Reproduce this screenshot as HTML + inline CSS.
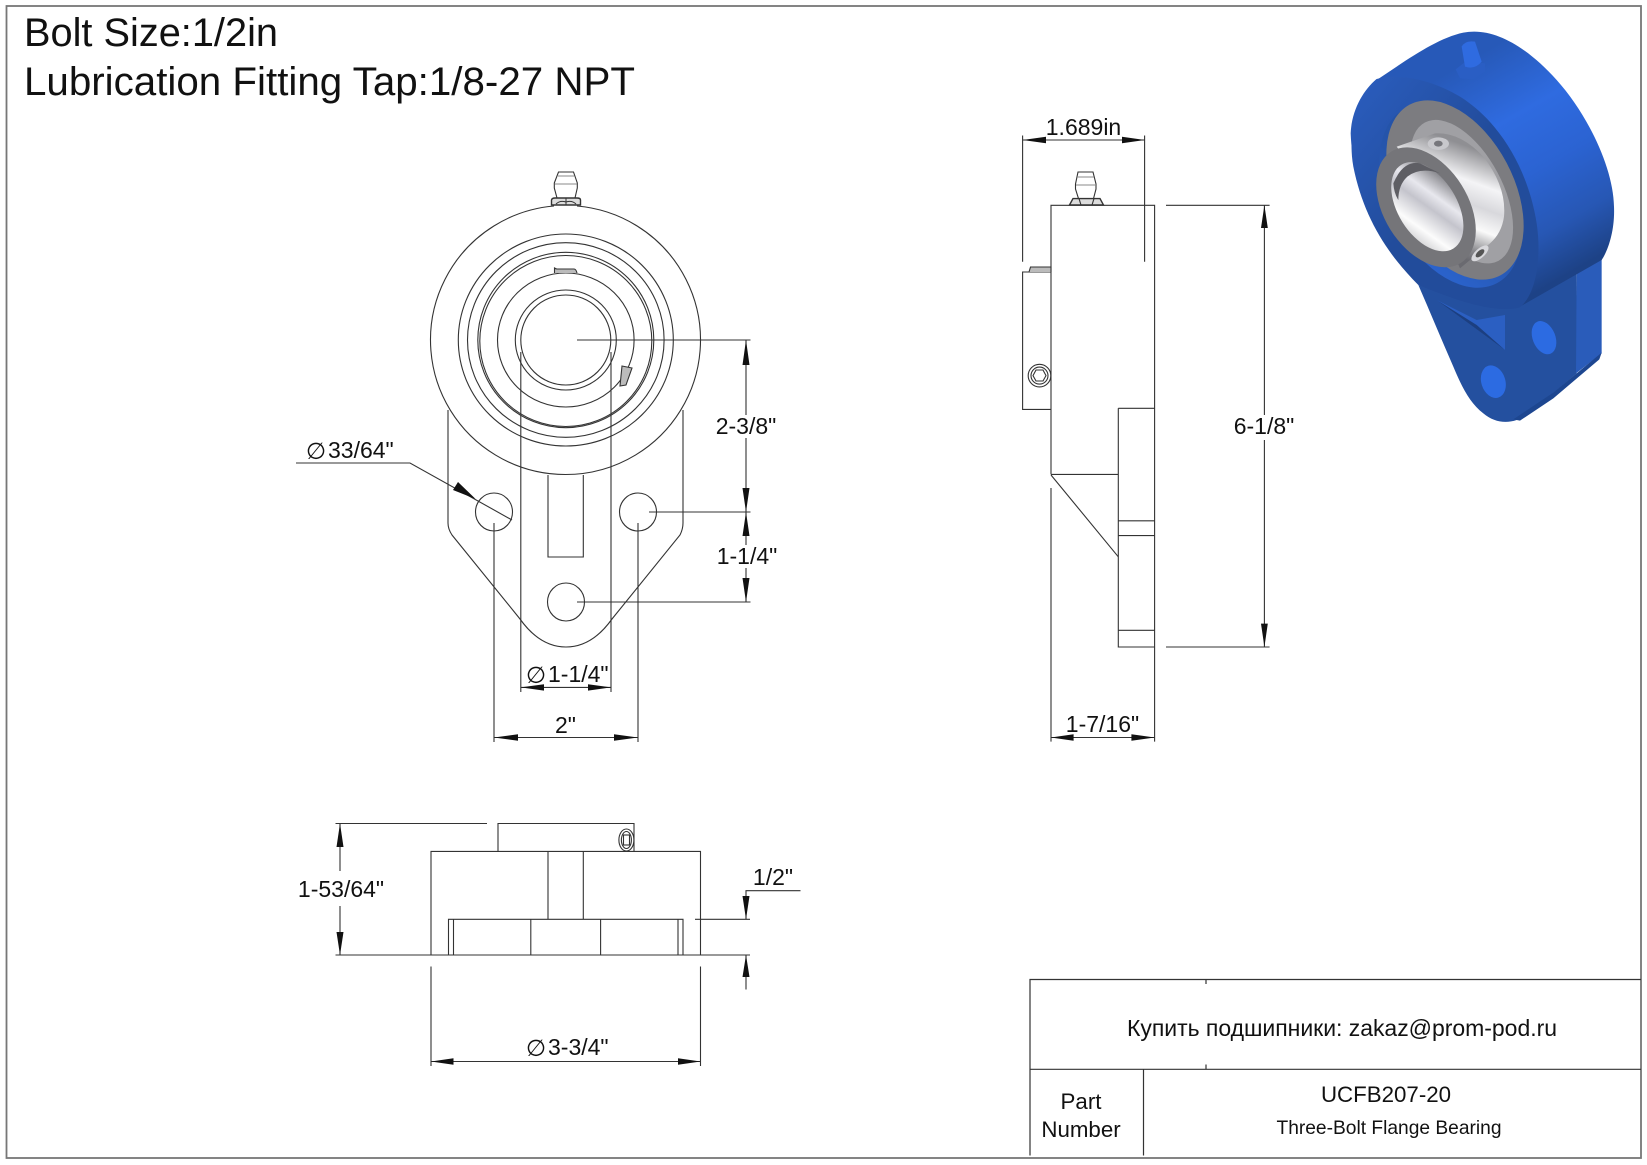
<!DOCTYPE html>
<html lang="en"><head><meta charset="utf-8"><title>UCFB207-20</title>
<style>
html,body{margin:0;padding:0;background:#fff}
svg{display:block}
text{font-family:"Liberation Sans","DejaVu Sans",sans-serif;fill:#111}
.l{fill:none;stroke:#333;stroke-width:1.1}
.a{fill:#111;stroke:none}
.m{text-anchor:middle;font-size:23px}
.phi{font-family:"DejaVu Sans",sans-serif;font-size:23px}
</style></head><body>
<svg xmlns="http://www.w3.org/2000/svg" width="1647" height="1165" viewBox="0 0 1647 1165">
<defs>
<linearGradient id="cyl" gradientUnits="userSpaceOnUse" x1="450" y1="150" x2="800" y2="760">
<stop offset="0" stop-color="#2759b8"/><stop offset=".3" stop-color="#2f6be0"/><stop offset=".55" stop-color="#2b63d2"/><stop offset=".8" stop-color="#2757b4"/><stop offset="1" stop-color="#1d4286"/></linearGradient>
<linearGradient id="face" gradientUnits="userSpaceOnUse" x1="100" y1="250" x2="400" y2="500">
<stop offset="0" stop-color="#2a5cbc"/><stop offset="1" stop-color="#224c9b"/></linearGradient>
<linearGradient id="rec" gradientUnits="userSpaceOnUse" x1="180" y1="300" x2="420" y2="850">
<stop offset="0" stop-color="#224c9b"/><stop offset=".55" stop-color="#2555ac"/><stop offset="1" stop-color="#2d68d8"/></linearGradient>
<linearGradient id="silver" gradientUnits="userSpaceOnUse" x1="500" y1="430" x2="390" y2="730">
<stop offset="0" stop-color="#8f8f93"/><stop offset=".3" stop-color="#f4f4f6"/><stop offset=".5" stop-color="#d8d8dc"/><stop offset=".7" stop-color="#fafafa"/><stop offset=".9" stop-color="#8a8a8e"/><stop offset="1" stop-color="#6a6a70"/></linearGradient>
<linearGradient id="bore" gradientUnits="userSpaceOnUse" x1="280" y1="480" x2="380" y2="720">
<stop offset="0" stop-color="#6d6d72"/><stop offset=".3" stop-color="#e8e8ee"/><stop offset=".45" stop-color="#c4c4cc"/><stop offset=".7" stop-color="#fcfcfc"/><stop offset="1" stop-color="#b0b0b4"/></linearGradient>
</defs>
<rect width="1647" height="1165" fill="#fff"/>
<rect x="6.5" y="6" width="1634.5" height="1152" fill="none" stroke="#777" stroke-width="1.8"/>

<text x="24" y="46" font-size="40" textLength="254" lengthAdjust="spacingAndGlyphs">Bolt Size:1/2in</text>
<text x="24" y="95" font-size="40" textLength="611" lengthAdjust="spacingAndGlyphs">Lubrication Fitting Tap:1/8-27 NPT</text>

<!-- front view -->
<g class="l">
<path d="M554 206A135 134.5 0 1 0 577 206"/>
<path d="M448 410V523Q448 529 452 535L520 619Q540 647 566 647Q592 647 612 619L680 535Q683 529 683 523V410"/>
<ellipse cx="565.8" cy="340" rx="107.5" ry="106"/>
<ellipse cx="565.8" cy="340" rx="98.3" ry="97.3"/>
<ellipse cx="565.8" cy="340" rx="88" ry="87.7"/>
<ellipse cx="565.8" cy="341" rx="86" ry="85.5"/>
<ellipse cx="565.8" cy="340" rx="68.3" ry="67"/>
<ellipse cx="565.8" cy="340" rx="50.5" ry="50"/>
<ellipse cx="565.8" cy="340" rx="45" ry="45"/>
<ellipse cx="494" cy="512" rx="18.5" ry="19"/>
<ellipse cx="638" cy="512" rx="18.5" ry="19"/>
<ellipse cx="566" cy="602" rx="18.5" ry="19"/>
<path d="M548 475V557H583.3V475"/>
<path d="M554.5 273V268Q556 269 557 269H574Q576 269 577 273" fill="#bbb"/>
<path d="M622 366L632 368 626 385 620 386Z" fill="#bbb"/>
<!-- fitting -->
<path d="M558.5 172H573.5L577.3 183V188L575 198H557L554.3 188V183Z" fill="#fff"/>
<path d="M558 176H574M555 184H577" stroke="#888"/>
<path d="M551.5 205V200Q552 198 555 198H577Q580.5 198 580.5 200V205Z" fill="#ddd" stroke-width="1.4"/>
<path d="M566 198V205M556 204Q560 200 566 202Q572 200 576 204" stroke-width="1"/>
<path d="M577 340H750.5M649 512H750.5M577 602H750.5"/>
<path d="M746 340V415M746 438V512M746 512V545M746 568V602"/>
<path d="M296 463H410L512 520"/>
<path d="M494 523V742M638 523V742M520.8 352V692M611 352V692"/>
<path d="M494 737.5H638M520.8 687.4H611"/>
</g>
<g class="a">
<polygon points="746,340 742.5,365 749.5,365"/>
<polygon points="746,512 742.5,488 749.5,488"/>
<polygon points="746,512 742.5,536 749.5,536"/>
<polygon points="746,602 742.5,578 749.5,578"/>
<polygon points="475.6,499 458,482 453,490"/>
<polygon points="494,737.5 518,734.3 518,740.7"/>
<polygon points="638,737.5 614,734.3 614,740.7"/>
<polygon points="520.8,687.4 544,684.2 544,690.6"/>
<polygon points="611,687.4 588,684.2 588,690.6"/>
</g>
<text class="m" x="746" y="434">2-3/8"</text>
<text class="m" x="747" y="564">1-1/4"</text>
<text class="phi" x="306" y="459">∅</text><text x="328" y="458" font-size="23">33/64"</text>
<text class="phi" x="526" y="683">∅</text><text x="548" y="682" font-size="23">1-1/4"</text>
<text class="m" x="565.5" y="733">2"</text>

<!-- bottom view -->
<g transform="translate(0 1)">
<g class="l">
<path d="M431 954V850.4H700.5V954"/>
<path d="M498 850.4V822.5H634V850.4"/>
<path d="M335.5 822.5H487M335.5 954H750"/>
<path d="M340 822.5V870M340 905V954"/>
<path d="M548 850.4V918.3M583.3 850.4V918.3"/>
<path d="M448.5 954V918.3H683V954M453.5 918.3V954M678 918.3V954M530.8 918.3V954M600.6 918.3V954"/>
<ellipse cx="626.4" cy="839" rx="7.5" ry="11"/><ellipse cx="626.4" cy="839" rx="5" ry="8.5"/><rect x="623.5" y="834" width="6" height="10"/>
<path d="M695 918.3H750M746 918.3V889.7H800.5M746 954V988.5"/>
<path d="M431 965.5V1065M700.5 965.5V1065M431 1060.5H700.5"/>
</g>
<g class="a">
<polygon points="340,822.5 336.5,846 343.5,846"/>
<polygon points="340,954 336.5,931 343.5,931"/>
<polygon points="746,918.3 742.5,895 749.5,895"/>
<polygon points="746,954 742.5,976 749.5,976"/>
<polygon points="431,1060.5 453.5,1057.3 453.5,1063.7"/>
<polygon points="700.5,1060.5 678,1057.3 678,1063.7"/>
</g>
<text class="m" x="341" y="896">1-53/64"</text>
<text class="m" x="773" y="884">1/2"</text>
<text class="phi" x="526" y="1055">∅</text><text x="548" y="1054" font-size="23">3-3/4"</text>
</g>

<!-- side view -->
<g class="l">
<path d="M1051 474.4V205.3H1154.6V647M1051 474.4H1118.3M1118.3 408.3H1154.6M1118.3 408.3V647H1154.6M1118.3 520.8H1154.6M1118.3 535.6H1154.6M1118.3 630.3H1154.6"/>
<path d="M1051 475L1118.3 556.8M1051 488V741.6M1154.6 647V741.6M1051 737.5H1154.6"/>
<path d="M1022.6 135.5V261.7M1144.6 135.5V261.7M1022.6 140H1144.6"/>
<path d="M1051 272H1022.6V409.4H1051"/>
<path d="M1029 272L1030.5 267H1051V272" fill="#bbb"/>
<circle cx="1039.5" cy="375.6" r="11.3"/><circle cx="1039.5" cy="375.6" r="8.5"/>
<path d="M1033 375.6L1036 370H1043L1046 375.6 1043 381H1036Z"/>
<path d="M1078 172H1093L1096 184V189L1093.5 198.6H1078.5L1075.5 189V184Z" fill="#fff"/>
<path d="M1077 177H1094M1076 185H1096" stroke="#888"/>
<path d="M1069.5 205L1073 198.6H1100L1103.5 205Z" fill="#ddd" stroke-width="1.4"/><path d="M1079 198.6L1081 205M1094 198.6L1092 205"/>
<path d="M1166 205.3H1269.6M1166 647H1269.6M1264.4 205.3V415M1264.4 440V647"/>
</g>
<g class="a">
<polygon points="1022.6,140 1046,136.8 1046,143.2"/>
<polygon points="1144.6,140 1122,136.8 1122,143.2"/>
<polygon points="1051,737.5 1073.6,734.3 1073.6,740.7"/>
<polygon points="1154.6,737.5 1131.4,734.3 1131.4,740.7"/>
<polygon points="1264.4,205.3 1261,228 1267.8,228"/>
<polygon points="1264.4,647 1261,623.6 1267.8,623.6"/>
</g>
<text class="m" x="1083.5" y="135">1.689in</text>
<text class="m" x="1102.5" y="732">1-7/16"</text>
<text class="m" x="1264" y="434">6-1/8"</text>

<!-- title block -->
<g transform="translate(0 1)">
<g class="l" style="stroke-width:1.2">
<path d="M1641 978.5H1030V1154.5M1030 1068.3H1641M1143.5 1068.3V1154.5M1206 978.5V983M1206 1063.5V1068.3"/>
</g>
<text x="1127" y="1035" font-size="23" textLength="430" lengthAdjust="spacing">Купить подшипники: zakaz@prom-pod.ru</text>
<text x="1386" y="1101" font-size="22.3" text-anchor="middle">UCFB207-20</text>
<text x="1389" y="1133" font-size="19.2" text-anchor="middle">Three-Bolt Flange Bearing</text>
<text x="1081" y="1108" font-size="22.3" text-anchor="middle">Part</text>
<text x="1081" y="1136" font-size="22.3" text-anchor="middle">Number</text>
</g>

<!-- 3D render -->
<g transform="translate(1320 10) scale(.33333)">
<path fill="#24509f" d="M295 825C330 905 365 990 400 1070C425 1130 450 1180 490 1210C520 1235 555 1242 590 1230C640 1200 700 1150 770 1090V780L560 880Z"/>
<path fill="#2a5cba" d="M770 790L845 745V1030L768 1090Z"/>
<path fill="#1d4690" d="M580 1228L700 1148 845 1028 838 1048 700 1165 600 1232Z"/>
<path fill="#2b5fc2" d="M350 870L555 1020V915L470 930Z"/>
<path fill="#1c3f80" d="M350 870L555 1020 470 945Z"/>
<ellipse cx="672" cy="983" rx="34" ry="52" transform="rotate(-22 672 983)" fill="#2c6be2"/>
<ellipse cx="520" cy="1115" rx="36" ry="50" transform="rotate(-18 520 1115)" fill="#2c6be2"/>
<path fill="url(#cyl)" d="M170 210C260 150 350 85 430 68C520 50 620 110 710 210C800 310 880 470 882 590C885 660 865 720 845 750L600 890 400 500Z"/>
<path fill="url(#face)" d="M170 207C230 190 330 205 420 260C540 335 625 480 650 640C665 740 650 850 600 892C520 915 380 860 295 825C200 730 130 620 100 470C82 370 110 260 170 207Z"/>
<ellipse cx="392" cy="558" rx="296" ry="183" transform="rotate(62 392 558)" fill="url(#rec)"/>
<path fill="url(#face)" d="M92 370C95 300 130 240 170 207C180 230 150 300 150 400C150 480 190 600 290 740C240 760 200 720 150 620C115 540 95 450 92 370Z"/>
<ellipse cx="405" cy="540" rx="290" ry="175" transform="rotate(62 405 540)" fill="#7c7c80"/>
<ellipse cx="425" cy="545" rx="235" ry="122" transform="rotate(62 425 545)" fill="#a0a0a4"/>
<path fill="url(#silver)" d="M230 410L345 370Q420 365 490 440Q560 530 552 620Q545 670 510 700L420 775 300 500Z"/>
<ellipse cx="318" cy="592" rx="197" ry="126" transform="rotate(58 318 592)" fill="#757579"/>
<ellipse cx="322" cy="590" rx="148" ry="88" transform="rotate(58 322 590)" fill="url(#bore)"/>
<path fill="#5e5e64" d="M220 520Q250 450 300 460L360 490Q300 470 262 500Q235 525 235 570Q222 550 220 520Z"/>
<ellipse cx="355" cy="401" rx="32" ry="19" fill="#c8c8cc"/><ellipse cx="355" cy="401" rx="13" ry="9" fill="#77777c"/>
<ellipse cx="480" cy="730" rx="32" ry="14" transform="rotate(-42 480 730)" fill="#d8d8dc"/><ellipse cx="480" cy="730" rx="16" ry="8" transform="rotate(-42 480 730)" fill="#555"/>
<path fill="#2a5ec4" d="M407 178L440 152 495 160 495 185 460 208 420 205Z"/>
<path fill="#2f6be0" d="M425 110Q435 90 465 95L485 155Q465 180 435 170Z"/>
</g>
</svg>
</body></html>
